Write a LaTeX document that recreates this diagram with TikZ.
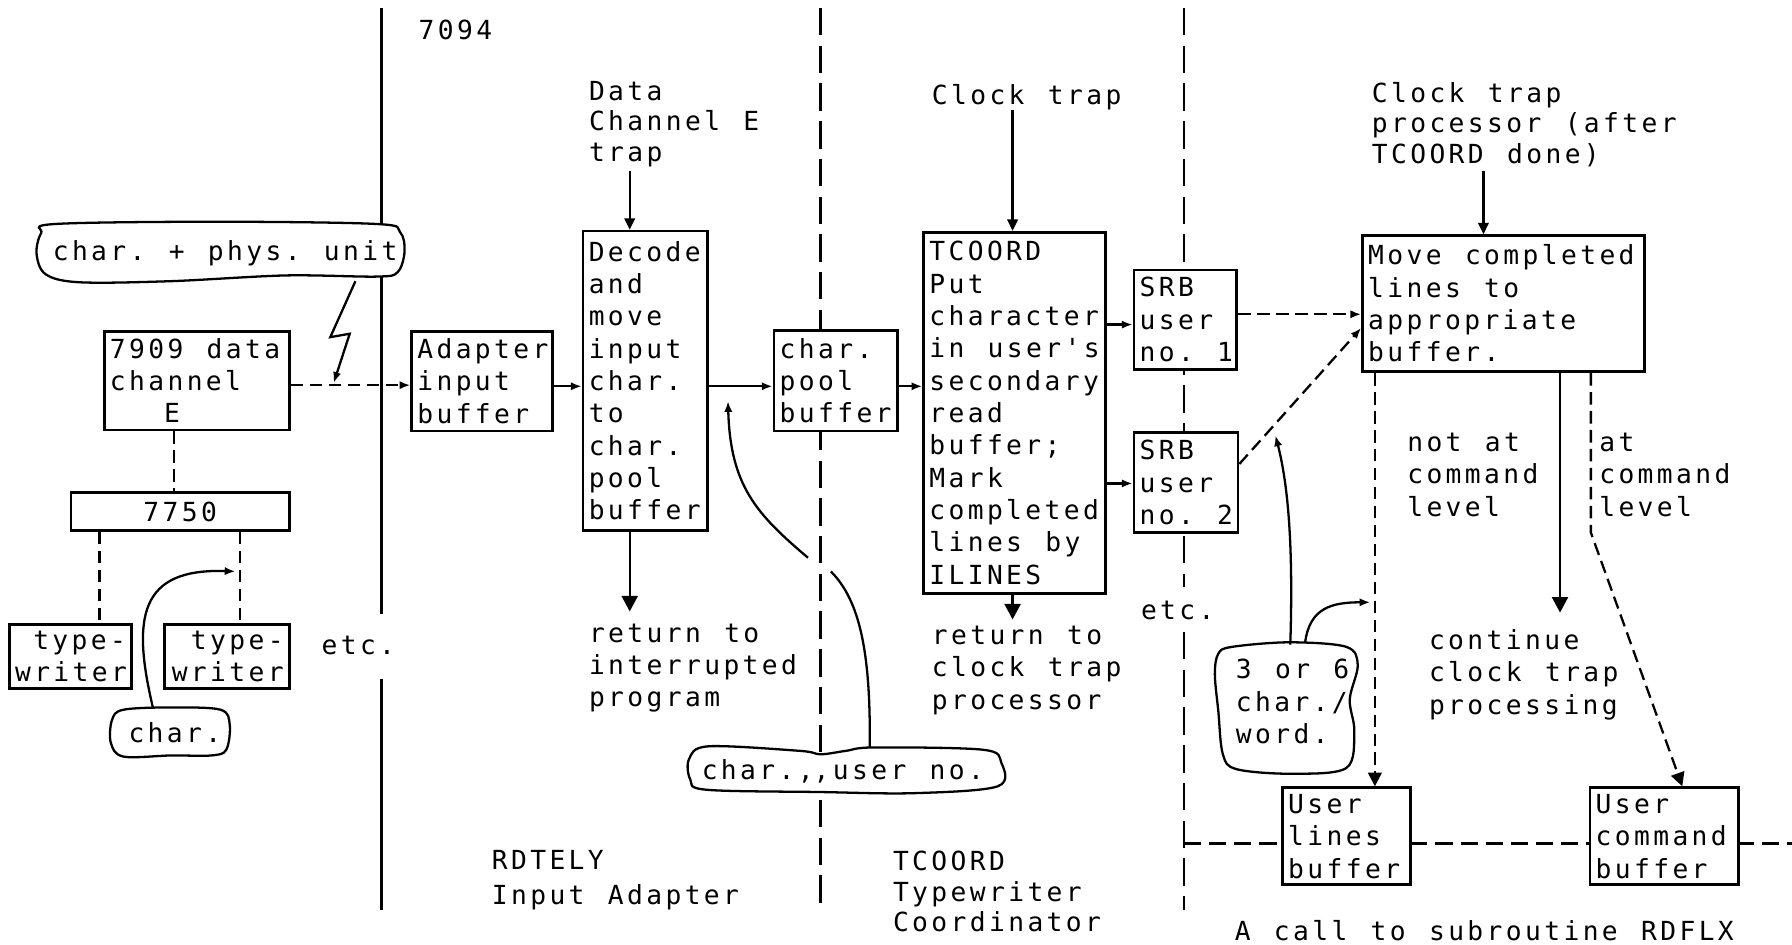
\documentclass[tikz,border=0pt]{standalone}
\usepackage{fontspec}
\usetikzlibrary{arrows.meta,calc}
\newfontfamily\twfont[LetterSpace=12.9,WordSpace={1.214,0,0},Ligatures=TeXOff]{DejaVu Sans Mono}
\newcommand\boxsize{\twfont\fontsize{11.5pt}{14.15pt}\selectfont}
\newcommand\labsize{\twfont\fontsize{11.5pt}{13.4pt}\selectfont}
\newcommand\capstrut{\rule[-2.13pt]{0pt}{12.63pt}}

\tikzset{
  txt/.style={font=\boxsize, inner sep=0pt, align=left,
    execute at begin node=\capstrut, execute at end node=\capstrut},
  note/.style={txt, anchor=north west},
  lab/.style={txt, font=\labsize, anchor=north west},
  bx/.style={txt, draw, fill=white, line width=1.2pt, anchor=north west,
    inner xsep=2.5pt, inner ysep=0pt, align=flush left},
  wire/.style={line width=1pt},
  divsolid/.style={line width=1.1pt},
  divdash/.style={line width=1.1pt, dash pattern=on 12pt off 4.5pt},
  wiredash/.style={line width=1pt, dash pattern=on 5.5pt off 2.8pt},
  busdash/.style={line width=1pt, dash pattern=on 7.5pt off 3.5pt},
  tipS/.style={-{Latex[length=4.7pt,width=3.6pt]}},
  tipM/.style={-{Triangle[length=5pt,width=4.6pt]}},
  tipU/.style={-{Triangle[length=6pt,width=6pt]}},
  tipB/.style={-{Triangle[length=6.8pt,width=7pt]}},
  balloon/.style={line width=1pt, fill=white},
}

\begin{document}
\begin{tikzpicture}[x=0.5pt,y=-0.5pt]
\useasboundingbox (0,0) rectangle (1568,826);

% partition lines
\draw[divsolid] (334,7) -- (334,537);
\draw[divsolid] (334,594) -- (334,796);
\draw[divdash] (718,7) -- (718,796);
\draw[divdash] (1036,7) -- (1036,514);
\draw[divdash] (1036,553) -- (1036,796);
\draw[busdash] (1036,738) -- (1568,738);

% hand-drawn balloons
\draw[balloon] plot[smooth cycle, tension=0.55] coordinates {(48,196) (190,194) (330,196) (350,203) (354,220) (348,238) (330,242) (250,241) (150,246) (70,247) (40,240) (32,222) (36,204)};
\draw[balloon] plot[smooth cycle, tension=0.55] coordinates {(108,621) (150,619) (193,621) (201,634) (198,656) (185,661) (150,661) (108,662) (97,650) (98,630)};
\draw[balloon] plot[smooth cycle, tension=0.55] coordinates {(620,653) (700,657) (718,660) (740,657) (765,654) (860,656) (876,667) (873,688) (800,694) (717,693) (618,691) (604,682) (603,664)};
\draw[balloon] plot[smooth cycle, tension=0.55] coordinates {(1078,566) (1128,562) (1178,566) (1188,582) (1181,612) (1185,640) (1178,672) (1130,677) (1082,673) (1070,660) (1066,622) (1063,590) (1066,572)};

\node[txt] (unitnote) at (197,220) {char.~+~phys.~unit};
\node[txt] (charnote) at (153,641) {char.};
\node[txt] (usernote) at (737.5,674) {char.,\kern0pt,user~no.};
\node[note] (wordnote) at (1081,576.4) {3~or~6\\char./\\word.};

% labels
\node[lab] (m7094) at (366,13.4) {7094};
\node[lab] (dtrap) at (515,70.4) {Data\\Channel~E\\trap};
\node[lab] (ctrap) at (815,70.4) {Clock~trap};
\node[lab] (ptrap) at (1200,71.4) {Clock~trap\\processor~(after\\TCOORD~done)};
\node[note] (ret1) at (515,545.4) {return~to\\interrupted\\program};
\node[note] (ret2) at (815,547.4) {return~to\\clock~trap\\processor};
\node[note] (notcmd) at (1231,378.4) {not~at\\command\\level};
\node[note] (atcmd) at (1399,378.4) {at\\command\\level};
\node[note] (cont) at (1250,550.4) {continue\\clock~trap\\processing};
\node[note] (etc1) at (281,551.4) {etc.};
\node[note] (etc2) at (998,520.4) {etc.};
\node[lab] (rdtely) at (430,743.4) {RDTELY\\[1.9pt]Input~Adapter};
\node[lab] (tcl) at (781,744.4) {TCOORD\\Typewriter\\Coordinator};
\node[lab] (rdflx) at (1080,801.4) {A~call~to~subroutine~RDFLX};

% boxes
\node[bx, minimum width=81pt, minimum height=43pt, text width=76pt] (ch7909) at (90,289) {7909~data\\channel\\\phantom{cha}E};
\node[bx, minimum width=95.5pt, minimum height=16.5pt, text width=90.5pt, align=flush center] (c7750) at (61,430) {7750};
\node[bx, minimum width=53.5pt, minimum height=28pt, text width=48.5pt, align=flush right] (tw1) at (7,545) {type-\\writer};
\node[bx, minimum width=54.5pt, minimum height=28pt, text width=49.5pt, align=flush right] (tw2) at (143,545) {type-\\writer};
\node[bx, minimum width=61.5pt, minimum height=43.5pt, text width=56.5pt] (adapt) at (359,289) {Adapter\\input\\buffer};
\node[bx, minimum width=54.5pt, minimum height=131pt, text width=49.5pt] (decode) at (509,201) {Decode\\and\\move\\input\\char.\\to\\char.\\pool\\buffer};
\node[bx, minimum width=54pt, minimum height=44pt, text width=49pt] (pool) at (676,288) {char.\\pool\\buffer};
\node[bx, minimum width=79.5pt, minimum height=158pt, text width=74.5pt] (tcoord) at (807,202) {TCOORD\\Put\\character\\in~user's\\secondary\\read\\buffer;\\Mark\\completed\\lines~by\\ILINES};
\node[bx, minimum width=45pt, minimum height=43.5pt, text width=40pt] (srb1) at (991,235) {SRB\\user\\no.~1};
\node[bx, minimum width=45.5pt, minimum height=44pt, text width=40.5pt] (srb2) at (991,377) {SRB\\user\\no.~2};
\node[bx, minimum width=123.5pt, minimum height=59.5pt, text width=118.5pt] (move) at (1191,205) {Move~completed\\lines~to\\appropriate\\buffer.};
\node[bx, minimum width=56pt, minimum height=42.5pt, text width=51pt] (ulines) at (1121,688) {User\\lines\\buffer};
\node[bx, minimum width=65pt, minimum height=42.5pt, text width=60pt] (ucmd) at (1390,688) {User\\command\\buffer};

% typewriter side
\coordinate (boltA) at (311,246);
\coordinate (boltB) at (289,295);
\coordinate (boltC) at (306,292);
\coordinate (bolttip) at (292,335);
\draw[wire, tipS] (boltA) -- (boltB) -- (boltC) -- (bolttip);
\coordinate (ya) at (0,337);
\draw[wiredash, tipS] (ch7909.east |- ya) -- (adapt.west |- ya);
\coordinate (xa) at (152,0);
\draw[wiredash] (ch7909.south -| xa) -- (c7750.north -| xa);
\coordinate (xb) at (87,0);
\draw[wiredash] (c7750.south -| xb) -- (tw1.north -| xb);
\coordinate (xc) at (210,0);
\draw[wiredash] (c7750.south -| xc) -- (tw2.north -| xc);
\coordinate (charstart) at (134,620);
\coordinate (charhit) at (206,500);
\draw[wire, tipS] (charstart) .. controls (115,540) and (122,497) .. (charhit);

% input adapter
\coordinate (ybus) at (0,338);
\draw[wire, tipS] (adapt.east |- ybus) -- (decode.west |- ybus);
\draw[wire, tipS] (decode.east |- ybus) -- (pool.west |- ybus);
\draw[wire, tipS] (pool.east |- ybus) -- (tcoord.west |- ybus);
\coordinate (dtop) at (551,150);
\draw[wire, tipM] (dtop) -- (dtop |- decode.north);
\coordinate (dret) at (551,535);
\draw[wire, tipB] (decode.south -| dret) -- (dret);
\coordinate (userstart) at (761,654);
\coordinate (crossA) at (727,500);
\coordinate (crossB) at (707,488);
\coordinate (poolhit) at (637,351);
\draw[wire] (userstart) .. controls (762,570) and (752,525) .. (crossA);
\draw[wire, tipS] (crossB) .. controls (662,450) and (639,425) .. (poolhit);

% typewriter coordinator
\coordinate (ctop) at (886,96);
\draw[wire, tipM] (ctop) -- (ctop |- tcoord.north);
\coordinate (cret) at (886,542);
\draw[wire, tipB] (tcoord.south -| cret) -- (cret);
\coordinate (ys1) at (0,284);
\coordinate (ys2) at (0,423);
\draw[wire, tipS] (tcoord.east |- ys1) -- (srb1.west |- ys1);
\draw[wire, tipS] (tcoord.east |- ys2) -- (srb2.west |- ys2);
\coordinate (ym1) at (0,275);
\draw[wiredash, tipS] (srb1.east |- ym1) -- (move.west |- ym1);
\coordinate (ysrb2) at (0,406);
\coordinate (ym2) at (0,287);
\draw[wiredash, tipS] (srb2.east |- ysrb2) -- (move.west |- ym2);
\coordinate (wordA) at (1129,564);
\coordinate (diaghit) at (1116,381);
\draw[wire, tipS] (wordA) .. controls (1132,470) and (1126,420) .. (diaghit);
\coordinate (wordB) at (1142,562);
\coordinate (lineshit) at (1199,527);
\draw[wire, tipS] (wordB) .. controls (1146,532) and (1165,527) .. (lineshit);

% RDFLX
\coordinate (mtop) at (1298,150);
\draw[wire, tipM] (mtop) -- (mtop |- move.north);
\coordinate (xul) at (1203,0);
\draw[wiredash, tipU] (move.south -| xul) -- (ulines.north -| xul);
\coordinate (contpt) at (1365,536);
\draw[wire, tipB] (move.south -| contpt) -- (contpt);
\coordinate (bend) at (1392,466);
\coordinate (xuc) at (1472,0);
\draw[wiredash, tipU] (move.south -| bend) -- (bend) -- (ucmd.north -| xuc);
\end{tikzpicture}
\end{document}
